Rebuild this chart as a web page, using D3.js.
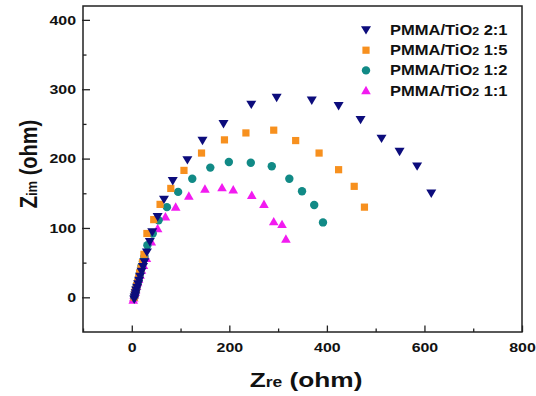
<!DOCTYPE html>
<html>
<head>
<meta charset="utf-8">
<script src="https://cdn.jsdelivr.net/npm/d3@7"></script>
<style>
  html, body { margin: 0; padding: 0; background: #fff; }
  svg { display: block; font-family: "Liberation Sans", Arial, sans-serif; }
</style>
</head>
<body>
<div id="chart"></div>
<script>
// series names (legend order)
const seriesNames = ['PMMA/TiO2 2:1', 'PMMA/TiO2 1:5', 'PMMA/TiO2 1:2', 'PMMA/TiO2 1:1'];

// Z' / Z'' (ohm) values
const zre21 = [5, 6, 7, 8, 9, 11, 13, 15, 17, 20, 23, 26, 31, 37, 42, 53, 66, 84, 114, 145, 188, 245, 297, 369, 424, 469, 512, 549, 585, 614];
const zim21 = [-3, 0, 3, 6, 10, 14, 19, 24, 30, 37, 44, 51, 65, 80, 94, 116, 141, 168, 198, 226, 250, 278, 288, 284, 276, 256, 229, 210, 189, 150];

const zre15 = [5, 6, 7, 9, 10, 12, 14, 16, 19, 22, 25, 31, 45, 58, 80, 107, 143, 190, 234, 291, 336, 384, 424, 456, 477];
const zim15 = [0, 4, 8, 12, 17, 22, 28, 35, 42, 50, 62, 92, 112, 134, 157, 183, 208, 227, 237, 241, 226, 208, 184, 160, 130];

const zre12 = [5, 6, 8, 9, 10, 12, 14, 16, 18, 20, 23, 26, 32, 43, 55, 72, 95, 124, 161, 199, 244, 287, 323, 349, 374, 392];
const zim12 = [0, 4, 8, 12, 16, 20, 25, 32, 38, 45, 52, 59, 75, 92, 111, 130, 152, 171, 187, 195, 194, 189, 171, 153, 133, 108];

const zre11 = [3, 4, 5, 7, 8, 10, 12, 14, 17, 20, 24, 30, 40, 53, 69, 90, 117, 150, 185, 208, 246, 271, 291, 308, 316];
const zim11 = [-4, -1, 3, 7, 11, 16, 21, 26, 32, 39, 46, 56, 80, 99, 116, 130, 146, 156, 158, 155, 147, 134, 109, 105, 84];

const xTicks = [0, 200, 400, 600, 800];
const xMinorTicks = [-100, 100, 300, 500, 700];
const yTicks = [0, 100, 200, 300, 400];
const yMinorTicks = [50, 150, 250, 350];

const colors = ['#0c0c7c', '#f7901e', '#118a86', '#f21bf0'];
const shapes = ['tridown', 'square', 'circle', 'triup'];

const W = 536, H = 396;
const margin = { top: 6, right: 14, bottom: 64, left: 83 };
const w = W - margin.left - margin.right;
const h = H - margin.top - margin.bottom;
// the reference text looks stretched sideways
const sx = 1.18;

const svg = d3.select('#chart').append('svg')
    .attr('width', W)
    .attr('height', H);

const x = d3.scaleLinear().domain([-100, 800]).range([0, w]);
const y = d3.scaleLinear().domain([-50, 420]).range([h, 0]);

const g = svg.append('g')
    .attr('transform', `translate(${margin.left},${margin.top})`);

const series = [
    { name: seriesNames[0], xs: zre21, ys: zim21 },
    { name: seriesNames[1], xs: zre15, ys: zim15 },
    { name: seriesNames[2], xs: zre12, ys: zim12 },
    { name: seriesNames[3], xs: zre11, ys: zim11 }
];

function drawSymbol(sel, shape, color) {
    if (shape === 'circle') {
        sel.append('circle').attr('r', 4.2).attr('fill', color);
    } else if (shape === 'square') {
        sel.append('rect').attr('x', -3.6).attr('y', -3.6)
            .attr('width', 7.2).attr('height', 7.2).attr('fill', color);
    } else if (shape === 'tridown') {
        sel.append('path').attr('d', 'M-5,-3.8L5,-3.8L0,4.6Z').attr('fill', color);
    } else {
        sel.append('path').attr('d', 'M-4.8,3.6L4.8,3.6L0,-4.8Z').attr('fill', color);
    }
}

// points, last series drawn first so 2:1 sits on top near the origin
[3, 2, 1, 0].forEach(k => {
    const s = series[k];
    const pts = s.xs.map((v, i) => [v, s.ys[i]]);
    g.append('g').attr('class', 'series-' + k)
        .selectAll('g')
        .data(pts)
        .enter().append('g')
        .attr('transform', d => 'translate(' + x(d[0]) + ',' + y(d[1]) + ')')
        .each(function () { drawSymbol(d3.select(this), shapes[k], colors[k]); });
});

// frame
g.append('rect')
    .attr('width', w).attr('height', h)
    .attr('fill', 'none').attr('stroke', '#222').attr('stroke-width', 1.5);

// axes with inward ticks
const xAxis = d3.axisBottom(x).tickValues(xTicks).tickSize(-6.5).tickPadding(10).tickFormat(d3.format('d'));
const xMinor = d3.axisBottom(x).tickValues(xMinorTicks).tickSize(-3.5).tickFormat('');
const yAxis = d3.axisLeft(y).tickValues(yTicks).tickSize(-7).tickPadding(7).tickFormat(d3.format('d'));
const yMinor = d3.axisLeft(y).tickValues(yMinorTicks).tickSize(-3.5).tickFormat('');

function styleAxis(ax) {
    ax.select('.domain').remove();
    ax.selectAll('line').attr('stroke', '#222').attr('stroke-width', 1.3);
    ax.selectAll('text').attr('fill', '#111').style('font-size', '13.5px').style('font-weight', 'bold')
        .style('font-family', '"Liberation Sans", Arial, sans-serif')
        .attr('transform', `scale(${sx},1)`);
}

g.append('g').attr('transform', `translate(0,${h})`).call(xAxis).call(styleAxis);
g.append('g').attr('transform', `translate(0,${h})`).call(xMinor).call(styleAxis);
const ya = g.append('g').call(yAxis).call(styleAxis);
ya.selectAll('.tick text').attr('x', -7 / sx);
ya.selectAll('.tick line').attr('x1', -1);
g.append('g').call(yMinor).call(styleAxis);

// axis titles
svg.append('g')
    .attr('transform', `translate(306,387) scale(1.25,1)`)
    .append('text')
    .attr('text-anchor', 'middle')
    .style('font-size', '21px').style('font-weight', 'bold').attr('fill', '#111')
    .call(t => {
        t.append('tspan').text('Z');
        t.append('tspan').style('font-size', '14px').text('re');
        t.append('tspan').text(' (ohm)');
    });

svg.append('g')
    .attr('transform', `translate(37,164) scale(${sx},1) rotate(-90)`)
    .append('text')
    .attr('text-anchor', 'middle')
    .style('font-size', '20px').style('font-weight', 'bold').attr('fill', '#111')
    .call(t => {
        t.append('tspan').text('Z');
        t.append('tspan').style('font-size', '13px').text('im');
        t.append('tspan').text(' (ohm)');
    });

// legend
const legend = svg.append('g').attr('transform', 'translate(366,30)');
series.forEach((s, k) => {
    const row = legend.append('g').attr('transform', `translate(0,${k * 20.2})`);
    drawSymbol(row, shapes[k], colors[k]);
    const parts = s.name.split('2 ');
    const t = row.append('g').attr('transform', `translate(24,5) scale(${sx},1)`)
        .append('text')
        .style('font-size', '14px').style('font-weight', 'bold').attr('fill', '#111');
    t.append('tspan').text(parts[0]);
    t.append('tspan').style('font-size', '10.5px').text('2');
    t.append('tspan').text(' ' + parts[1]);
});
</script>
</body>
</html>
